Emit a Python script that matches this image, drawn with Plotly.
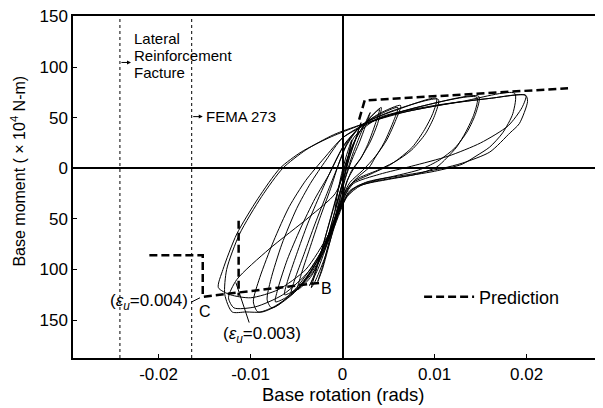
import plotly.graph_objects as go

# ---- data (rotation in rad, moment in 10^4 N-m) ----
cyc1_rot = [0.0010, 0.0006, 0.0002, -0.0003, -0.0008, -0.0005, -0.0001, 0.0004, 0.0010]
cyc1_mom = [28, 10, -8, -25, -40, -22, -5, 12, 28]

cyc2_rot = [0.0020, 0.0014, 0.0007, 0.0002, -0.0005, -0.0012, -0.0018, -0.0013, -0.0006, 0.0001, 0.0009, 0.0020]
cyc2_mom = [45, 28, 10, -8, -30, -55, -75, -58, -35, -10, 15, 45]

cyc3_rot = [0.0030, 0.0025, 0.0018, 0.0010, 0.0003, -0.0004, -0.0013, -0.0022, -0.0027, -0.0022, -0.0014, -0.0006, 0.0002, 0.0011, 0.0020, 0.0030]
cyc3_mom = [55, 42, 25, 8, -10, -35, -70, -100, -112, -98, -70, -40, -12, 14, 35, 55]

cyc4_rot = [0.0040, 0.0036, 0.0028, 0.0020, 0.0013, 0.0005, 0.0001, -0.0008, -0.0020, -0.0030, -0.0034, -0.0029, -0.0020, -0.0010, -0.0002, 0.0006, 0.0018, 0.0030, 0.0040]
cyc4_mom = [58, 45, 25, 10, 1, -12, -25, -55, -90, -112, -118, -102, -72, -40, -12, 12, 35, 50, 58]

cyc4b_rot = [0.0042, 0.0038, 0.0030, 0.0019, 0.0010, 0.0003, -0.0005, -0.0015, -0.0027, -0.0036, -0.0032, -0.0024, -0.0014, -0.0005, 0.0003, 0.0012, 0.0025, 0.0042]
cyc4b_mom = [60, 44, 26, 9, -2, -18, -40, -70, -100, -116, -108, -85, -52, -22, 3, 25, 45, 60]

cyc5_rot = [0.0060, 0.0056, 0.0045, 0.0035, 0.0029, 0.0015, 0.0004, -0.0006, -0.0020, -0.0035, -0.0049, -0.0045, -0.0036, -0.0025, -0.0013, -0.0004, 0.0005, 0.0020, 0.0040, 0.0060]
cyc5_mom = [60, 48, 25, 10, 1, -10, -22, -45, -80, -108, -120, -105, -80, -50, -20, 5, 25, 42, 53, 60]

cyc5b_rot = [0.0063, 0.0058, 0.0048, 0.0036, 0.0022, 0.0008, 0.0000, -0.0012, -0.0028, -0.0044, -0.0056, -0.0052, -0.0042, -0.0030, -0.0017, -0.0006, 0.0004, 0.0018, 0.0040, 0.0063]
cyc5b_mom = [62, 48, 28, 12, -2, -14, -28, -58, -92, -115, -124, -110, -85, -55, -25, 0, 22, 40, 54, 62]

cyc6_rot = [0.0102, 0.0098, 0.0089, 0.0076, 0.0062, 0.0051, 0.0030, 0.0010, 0.0002, -0.0010, -0.0028, -0.0048, -0.0063, -0.0060, -0.0050, -0.0038, -0.0024, -0.0010, 0.0003, 0.0025, 0.0060, 0.0102]
cyc6_mom = [69, 54, 38, 21, 10, 3, -6, -15, -28, -58, -95, -118, -125, -112, -85, -55, -25, 3, 25, 45, 58, 69]

cyc6b_rot = [0.0104, 0.0100, 0.0090, 0.0075, 0.0058, 0.0038, 0.0015, 0.0004, -0.0008, -0.0025, -0.0045, -0.0062, -0.0073, -0.0070, -0.0060, -0.0046, -0.0030, -0.0014, 0.0000, 0.0020, 0.0055, 0.0104]
cyc6b_mom = [68, 52, 34, 18, 7, -2, -11, -22, -48, -88, -115, -128, -132, -118, -90, -60, -30, -5, 20, 42, 57, 68]

cyc7_rot = [0.0146, 0.0143, 0.0134, 0.0124, 0.0113, 0.0102, 0.0080, 0.0050, 0.0020, 0.0005, -0.0010, -0.0030, -0.0055, -0.0077, -0.0082, -0.0078, -0.0066, -0.0050, -0.0035, -0.0018, 0.0000, 0.0030, 0.0080, 0.0146]
cyc7_mom = [70, 54, 36, 21, 10, 1, -6, -11, -17, -28, -60, -100, -125, -138, -130, -110, -75, -40, -15, 8, 30, 46, 60, 70]

cyc7b_rot = [0.0148, 0.0145, 0.0136, 0.0122, 0.0105, 0.0085, 0.0055, 0.0025, 0.0007, -0.0008, -0.0028, -0.0052, -0.0075, -0.0092, -0.0097, -0.0090, -0.0075, -0.0058, -0.0040, -0.0020, 0.0000, 0.0035, 0.0085, 0.0148]
cyc7b_mom = [71, 55, 37, 20, 8, -1, -8, -14, -24, -52, -92, -122, -137, -142, -132, -108, -72, -38, -12, 10, 30, 47, 61, 71]

cyc8_rot = [0.0187, 0.0185, 0.0174, 0.0160, 0.0145, 0.0130, 0.0100, 0.0060, 0.0030, 0.0008, -0.0005, -0.0025, -0.0050, -0.0070, -0.0087, -0.0105, -0.0120, -0.0128, -0.0126, -0.0112, -0.0088, -0.0065, -0.0040, -0.0010, 0.0020, 0.0070, 0.0130, 0.0187]
cyc8_mom = [74, 54, 35, 21, 12, 4, -3, -9, -14, -22, -45, -85, -118, -135, -142, -142, -142, -125, -100, -65, -28, 0, 18, 33, 43, 56, 66, 74]

cyc9_rot = [0.0199, 0.0195, 0.0180, 0.0150, 0.0115, 0.0075, 0.0040, 0.0012, 0.0002, -0.0012, -0.0035, -0.0065, -0.0095, -0.0118, -0.0124, -0.0115, -0.0080, -0.0036, -0.0008, 0.0003, 0.0012, 0.0040, 0.0100, 0.0160, 0.0199]
cyc9_mom = [72, 60, 42, 25, 12, 2, -6, -15, -28, -62, -100, -125, -137, -138, -128, -110, -80, -48, -25, 0, 30, 50, 62, 69, 72]

cyc10_rot = [0.0199, 0.0201, 0.0192, 0.0182, 0.0160, 0.0130, 0.0109, 0.0080, 0.0040, 0.0015, 0.0003, -0.0015, -0.0040, -0.0070, -0.0100, -0.0122, -0.0135, -0.0130, -0.0115, -0.0092, -0.0068, -0.0045, -0.0015, 0.0012, 0.0050, 0.0110, 0.0160, 0.0199]
cyc10_mom = [72, 66, 44, 35, 16, 5, 0, -5, -11, -18, -30, -65, -100, -120, -128, -125, -118, -100, -65, -30, 0, 16, 30, 40, 52, 63, 69, 72]

pred_pos_rot = [0.0018, 0.0024, 0.0245]
pred_pos_mom = [48, 67, 79]
pred_neg_rot = [-0.0210, -0.0152, -0.0152, -0.0023]
pred_neg_mom = [-86, -86, -127, -113]
pred_drop_rot = [-0.0113, -0.0113]
pred_drop_mom = [-52, -126]

limit_rot = [-0.0242, -0.0164]  # lateral reinforcement fracture, FEMA 273

x_ticks = [-0.02, -0.01, 0, 0.01, 0.02]
x_tick_text = ["-0.02", "-0.01", "0", "0.01", "0.02"]
y_ticks = [150, 100, 50, 0, -50, -100, -150]
y_tick_text = ["150", "100", "50", "0", "50", "100", "150"]

FONT = "Liberation Sans, Arial, sans-serif"

fig = go.Figure()

cycles = [(cyc1_rot, cyc1_mom), (cyc2_rot, cyc2_mom), (cyc3_rot, cyc3_mom), (cyc4_rot, cyc4_mom),
          (cyc4b_rot, cyc4b_mom), (cyc5_rot, cyc5_mom), (cyc5b_rot, cyc5b_mom), (cyc6_rot, cyc6_mom),
          (cyc6b_rot, cyc6b_mom), (cyc7_rot, cyc7_mom), (cyc7b_rot, cyc7b_mom), (cyc8_rot, cyc8_mom),
          (cyc9_rot, cyc9_mom), (cyc10_rot, cyc10_mom)]
for r, m in cycles:
    fig.add_trace(go.Scatter(x=r, y=m, mode="lines", showlegend=False, hoverinfo="skip",
                             line=dict(color="black", width=1, shape="spline", smoothing=0.7)))

dash = "8px,4px"
fig.add_trace(go.Scatter(x=pred_pos_rot, y=pred_pos_mom, mode="lines", name="Prediction",
                         legendgroup="p", line=dict(color="black", width=2.5, dash=dash)))
fig.add_trace(go.Scatter(x=pred_neg_rot, y=pred_neg_mom, mode="lines", showlegend=False,
                         legendgroup="p", line=dict(color="black", width=2.5, dash=dash)))
fig.add_trace(go.Scatter(x=pred_drop_rot, y=pred_drop_mom, mode="lines", showlegend=False,
                         legendgroup="p", line=dict(color="black", width=2.5, dash=dash)))

for xv in limit_rot:
    fig.add_vline(x=xv, line=dict(color="black", width=1, dash="dot"))

ann = []
def txt(x, y, s, size=15, xanchor="left", **kw):
    ann.append(dict(x=x, y=y, xref="x", yref="y", text=s, showarrow=False, xanchor=xanchor,
                    yanchor="middle", font=dict(family=FONT, size=size, color="black"), **kw))

txt(-0.0229, 128, "Lateral")
txt(-0.0229, 111, "Reinforcement")
txt(-0.0229, 94.5, "Facture")
txt(-0.0151, 51, "FEMA 273")
txt(-0.00175, -118.5, "B", size=16, xanchor="center")
txt(-0.0150, -142, "C", size=16, xanchor="center")
txt(-0.0166, -132, "(<i>ε</i><sub><i>u</i></sub>=0.004)", size=17, xanchor="right")
txt(-0.0088, -165, "(<i>ε</i><sub><i>u</i></sub>=0.003)", size=17, xanchor="center")

# arrows
for (hx, tx, y) in [(-0.0230, -0.0242, 104.5), (-0.0152, -0.0164, 51)]:
    ann.append(dict(x=hx, y=y, ax=tx, ay=y, xref="x", yref="y", axref="x", ayref="y", text="",
                    showarrow=True, arrowhead=2, arrowsize=0.8, arrowwidth=1, arrowcolor="black"))
# leader lines
for (hx, hy, tx, ty) in [(-0.0155, -128, -0.0166, -133), (-0.0116, -113, -0.0101, -154)]:
    ann.append(dict(x=hx, y=hy, ax=tx, ay=ty, xref="x", yref="y", axref="x", ayref="y", text="",
                    showarrow=True, arrowhead=0, arrowwidth=1, arrowcolor="black"))

# axis titles
ann.append(dict(x=0.5, y=0, xref="paper", yref="paper", xanchor="center", yanchor="top", yshift=-24,
                xshift=5, text="Base rotation (rads)", showarrow=False,
                font=dict(family=FONT, size=18.5, color="black")))
ann.append(dict(x=0, y=0.545, xref="paper", yref="paper", xanchor="center", yanchor="middle", xshift=-55,
                text="Base moment ( × 10<sup>4</sup> N-m)", textangle=-90, showarrow=False,
                font=dict(family=FONT, size=16, color="black")))

# page body has an 8px default margin, so the figure is made 8px smaller
fig.update_layout(
    width=595, height=400,
    margin=dict(l=65, r=0, t=8, b=50),
    paper_bgcolor="white", plot_bgcolor="white",
    font=dict(family=FONT, size=17, color="black"),
    annotations=ann,
    showlegend=True,
    legend=dict(x=0.653, y=0.178, xanchor="left", yanchor="middle", bgcolor="rgba(0,0,0,0)",
                font=dict(family=FONT, size=18, color="black"), itemwidth=50),
)
fig.update_xaxes(range=[-0.0293, 0.0283], showgrid=False, zeroline=True, zerolinecolor="black",
                 zerolinewidth=1.5, showline=True, linecolor="black", linewidth=1.5, mirror=True,
                 ticks="inside", ticklen=4, tickcolor="black", tickvals=x_ticks, ticktext=x_tick_text,
                 tickfont=dict(family=FONT, size=17, color="black"))
fig.update_yaxes(range=[-187.5, 150.4], showgrid=False, zeroline=True, zerolinecolor="black",
                 zerolinewidth=1.5, showline=True, linecolor="black", linewidth=1.5,
                 ticks="inside", ticklen=4, tickcolor="black", tickvals=y_ticks, ticktext=y_tick_text,
                 tickfont=dict(family=FONT, size=17, color="black"), ticklabeloverflow="allow")

fig.write_html("out.html")
